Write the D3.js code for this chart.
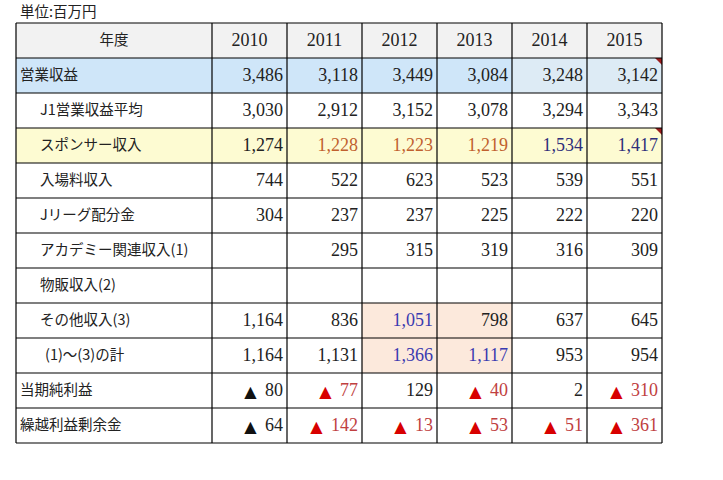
<!DOCTYPE html>
<html>
<head>
<meta charset="utf-8">
<script src="https://cdn.jsdelivr.net/npm/d3@7"></script>
<style>
  body { margin: 0; background: #fff; }
  .num { font-family: "Liberation Serif", "DejaVu Serif", serif; font-size: 18px; }
  .lbl { font-family: "Noto Sans CJK JP", sans-serif; font-size: 14.5px; }
</style>
</head>
<body>
<div id="chart"></div>
<script>
// values in 百万円, negative = ▲
var years = ["2010", "2011", "2012", "2013", "2014", "2015"];
var rowLabels = ["営業収益", "J1営業収益平均", "スポンサー収入", "入場料収入", "Jリーグ配分金",
  "アカデミー関連収入(1)", "物販収入(2)", "その他収入(3)", "(1)～(3)の計", "当期純利益", "繰越利益剰余金"];
var operatingRevenue = [3486, 3118, 3449, 3084, 3248, 3142];
var j1Average = [3030, 2912, 3152, 3078, 3294, 3343];
var sponsorIncome = [1274, 1228, 1223, 1219, 1534, 1417];
var admissionIncome = [744, 522, 623, 523, 539, 551];
var jleagueShare = [304, 237, 237, 225, 222, 220];
var academyIncome = [null, 295, 315, 319, 316, 309];
var merchIncome = [null, null, null, null, null, null];
var otherIncome = [1164, 836, 1051, 798, 637, 645];
var subtotal13 = [1164, 1131, 1366, 1117, 953, 954];
var netIncome = [-80, -77, 129, -40, 2, -310];
var retainedEarnings = [-64, -142, -13, -53, -51, -361];

var rowValues = [operatingRevenue, j1Average, sponsorIncome, admissionIncome, jleagueShare,
  academyIncome, merchIncome, otherIncome, subtotal13, netIncome, retainedEarnings];

var svgWidth = 723;
var svgHeight = 480;
var tLeft = 16, firstColRight = 212, tRight = 662, tTop = 23, tBottom = 443;

var svg = d3.select("#chart").append("svg")
  .attr("width", svgWidth)
  .attr("height", svgHeight);

var x = d3.scaleBand().domain(years).range([firstColRight, tRight]);
var y = d3.scaleBand().domain(["年度"].concat(rowLabels)).range([tTop, tBottom]);

// cell styling
function cellFill(r, c) {
  if (r === 0) return c >= 4 ? "#ddebf5" : "#cfe6f9";
  if (r === 2) return "#fdfbd2";
  if ((r === 7 || r === 8) && (c === 2 || c === 3)) return "#fce9dc";
  return "#fff";
}
function labelFill(r) {
  if (r === 0) return "#cfe6f9";
  if (r === 2) return "#fdfbd2";
  return "#fff";
}
function textColor(r, c, v) {
  if (r === 2 && c >= 1 && c <= 3) return "#c0602e";
  if (r === 2 && c >= 4) return "#2e2e7a";
  if ((r === 7 && c === 2) || (r === 8 && (c === 2 || c === 3))) return "#3a3ab0";
  return "#222";
}
var indent = [4, 24, 24, 24, 24, 24, 24, 24, 29, 4, 4];

// header row
svg.append("rect").attr("x", tLeft).attr("y", y("年度"))
  .attr("width", tRight - tLeft).attr("height", y.bandwidth()).attr("fill", "#f2f2f2");
svg.append("text").attr("class", "lbl")
  .attr("x", (tLeft + firstColRight) / 2).attr("y", y("年度") + y.bandwidth() / 2 + 1)
  .attr("text-anchor", "middle").attr("dominant-baseline", "middle").attr("fill", "#222")
  .text("年度");
svg.selectAll(".yr").data(years).enter().append("text")
  .attr("class", "num")
  .attr("x", d => x(d) + x.bandwidth() / 2)
  .attr("y", y("年度") + y.bandwidth() / 2 + 1)
  .attr("text-anchor", "middle").attr("dominant-baseline", "middle").attr("fill", "#222")
  .text(d => d);

// body rows
rowLabels.forEach(function(label, r) {
  var ry = y(label);
  svg.append("rect").attr("x", tLeft).attr("y", ry)
    .attr("width", firstColRight - tLeft).attr("height", y.bandwidth()).attr("fill", labelFill(r));
  svg.append("text").attr("class", "lbl")
    .attr("x", tLeft + indent[r]).attr("y", ry + y.bandwidth() / 2 + 1)
    .attr("dominant-baseline", "middle").attr("fill", "#222")
    .text(label);

  rowValues[r].forEach(function(v, c) {
    var cx = x(years[c]);
    svg.append("rect").attr("x", cx).attr("y", ry)
      .attr("width", x.bandwidth()).attr("height", y.bandwidth()).attr("fill", cellFill(r, c));
    if (v === null) return;
    var t = svg.append("text").attr("class", "num")
      .attr("x", cx + x.bandwidth() - 4).attr("y", ry + y.bandwidth() / 2 + 1)
      .attr("text-anchor", "end").attr("dominant-baseline", "middle");
    if (v < 0) {
      t.append("tspan").attr("font-family", "DejaVu Sans").attr("font-size", "16px")
        .attr("fill", c === 0 ? "#111" : "#d80000").text("▲");
      t.append("tspan").attr("dx", 4).attr("fill", c === 0 ? "#222" : "#c04040")
        .text(" " + d3.format(",")(-v));
    } else {
      t.attr("fill", textColor(r, c, v)).text(d3.format(",")(v));
    }
  });
});

// comment markers
[0, 2].forEach(function(r) {
  var rx = tRight, ry = y(rowLabels[r]);
  svg.append("path")
    .attr("d", "M" + (rx - 7) + "," + ry + "L" + rx + "," + ry + "L" + rx + "," + (ry + 7) + "Z")
    .attr("fill", "#9b1c1c");
});

// grid lines
var rowEdges = y.domain().map(d => y(d)).concat([tBottom]);
svg.selectAll(".hline").data(rowEdges).enter().append("line")
  .attr("x1", tLeft).attr("x2", tRight)
  .attr("y1", d => d).attr("y2", d => d)
  .attr("stroke", "#000").attr("stroke-width", 1.2);
var colEdges = [tLeft].concat(years.map(d => x(d))).concat([tRight]);
svg.selectAll(".vline").data(colEdges).enter().append("line")
  .attr("x1", d => d).attr("x2", d => d)
  .attr("y1", tTop).attr("y2", tBottom)
  .attr("stroke", "#000").attr("stroke-width", 1.2);

// unit note
svg.append("text").attr("class", "lbl")
  .attr("x", 20).attr("y", 13)
  .attr("dominant-baseline", "middle").attr("font-size", "14px").attr("fill", "#222")
  .text("単位:百万円");
</script>
</body>
</html>
